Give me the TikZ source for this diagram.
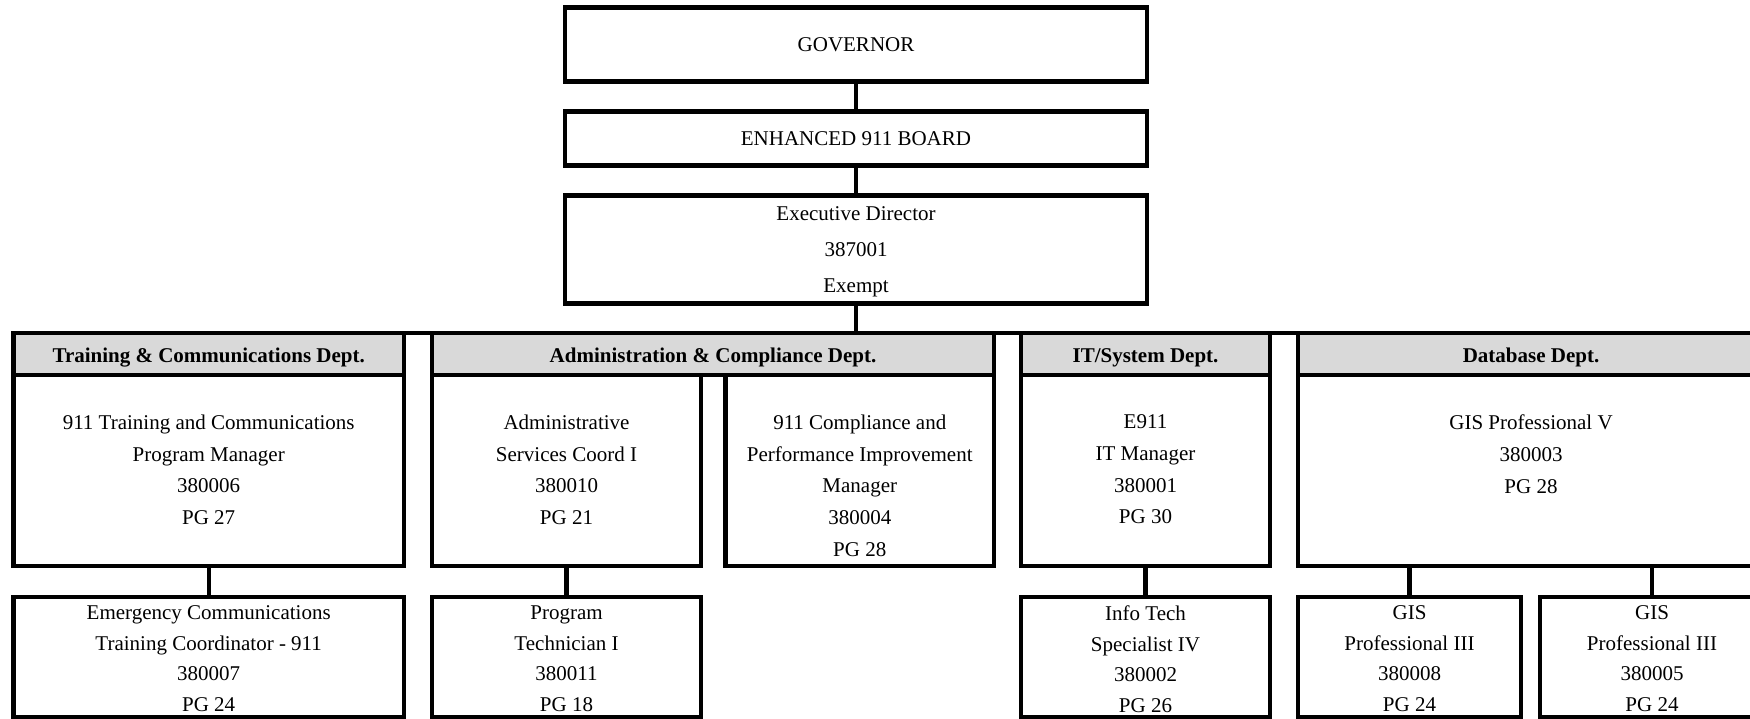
\documentclass[tikz,border=0pt]{standalone}
\usepackage{fontspec}
\setmainfont{Liberation Serif}
\usetikzlibrary{positioning}
\definecolor{hdrgray}{RGB}{217,217,217}
\newcommand{\chartfont}{\fontsize{21}{31.7}\selectfont}

\begin{document}
\begin{tikzpicture}[x=1pt, y=-1pt,
    box/.style={draw, line width=4.7pt, inner sep=0pt, outer sep=0pt, align=center, font=\chartfont},
    dept/.style={box, fill=hdrgray, minimum height=42pt, text height=16pt, text depth=0pt, font=\chartfont\bfseries},
    post/.style={box, minimum height=191pt},
    sub/.style={box, minimum height=120pt},
    txt/.style={inner sep=0pt, align=center, font=\chartfont},
    subtxt/.style={txt, font=\fontsize{21}{30.5}\selectfont},
    link/.style={line width=4.3pt}]

% page frame
\useasboundingbox (0,0) rectangle (1750,719);
\clip (0,0) rectangle (1750,719);

% Top of the chart
\node[box, minimum width=582pt, minimum height=73.7pt] (gov) at (856,44.6) {GOVERNOR};
\node[box, minimum width=582pt, minimum height=53.6pt] (board) at (856,138.4) {ENHANCED 911 BOARD};
\node[box, minimum width=582pt, minimum height=108.3pt, text depth=0pt, font=\fontsize{21}{36.3}\selectfont] (exec) at (856,249.5) {Executive Director\\387001\\Exempt};
\draw[link] (gov) -- (board);
\draw[link] (board) -- (exec);

% Department headers (gray)
\node[dept, minimum width=390.6pt] (trnh) at (208.7,354) {Training \& Communications Dept.};
\node[dept, minimum width=562pt] (admh) at (713,354) {Administration \& Compliance Dept.};
\node[dept, minimum width=249pt] (ith) at (1145.5,354) {IT/System Dept.};
\node[dept, minimum width=466pt] (dbh) at (1531,354) {Database Dept.};

% Bus from the director to the departments
\draw[link] (exec.south) -- (exec.south |- trnh.north);
\draw[link] (trnh.north west) -- (dbh.north east);

% First row of positions
\node[post, minimum width=390.6pt] (trn) at (208.7,470.5) {};
\node[post, minimum width=269pt] (asc) at (566.5,470.5) {};
\node[post, minimum width=268.5pt] (cpi) at (859.75,470.5) {};
\node[post, minimum width=249pt] (itm) at (1145.5,470.5) {};
\node[post, minimum width=466pt] (gis5) at (1531,470.5) {};

\node[txt, below=39.7pt of trn.north] (trn-t) {911 Training and Communications\\Program Manager\\380006\\PG 27};
\node[txt, below=39.7pt of asc.north] (asc-t) {Administrative\\Services Coord I\\380010\\PG 21};
\node[txt, below=39.7pt of cpi.north] (cpi-t) {911 Compliance and\\Performance Improvement\\Manager\\380004\\PG 28};
\node[txt, below=39.7pt of itm.north] (itm-t) {E911\\IT Manager\\380001\\PG 30};
\node[txt, below=39.7pt of gis5.north] (gis5-t) {GIS Professional V\\380003\\PG 28};

% Second row of positions
\node[sub, minimum width=390.6pt] (etc) at (208.7,657) {};
\node[sub, minimum width=269pt] (pt1) at (566.5,657) {};
\node[sub, minimum width=249pt] (its) at (1145.5,657) {};
\node[sub, minimum width=223pt] (gis3a) at (1409.5,657) {};
\node[sub, minimum width=224pt] (gis3b) at (1652,657) {};

\node[subtxt, below=8.7pt of etc.north] (etc-t) {Emergency Communications\\Training Coordinator - 911\\380007\\PG 24};
\node[subtxt, below=8.7pt of pt1.north] (pt1-t) {Program\\Technician I\\380011\\PG 18};
\node[subtxt, below=8.7pt of its.north] (its-t) {Info Tech\\Specialist IV\\380002\\PG 26};
\node[subtxt, below=8.7pt of gis3a.north] (gis3a-t) {GIS\\Professional III\\380008\\PG 24};
\node[subtxt, below=8.7pt of gis3b.north] (gis3b-t) {GIS\\Professional III\\380005\\PG 24};

% Reporting lines
\draw[link] (trn) -- (etc);
\draw[link] (asc) -- (pt1);
\draw[link] (itm) -- (its);
\draw[link] (gis3a.north |- gis5.south) -- (gis3a.north);
\draw[link] (gis3b.north |- gis5.south) -- (gis3b.north);

\end{tikzpicture}
\end{document}
